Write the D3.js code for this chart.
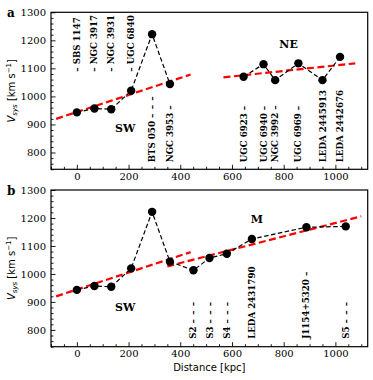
<!DOCTYPE html>
<html>
<head>
<meta charset="utf-8">
<script src="https://cdn.jsdelivr.net/npm/d3@7"></script>
<style>
  body { margin: 0; background: #fff; }
  svg { display: block; }
  .tick text { font-family: "DejaVu Serif", serif; font-size: 10px; fill: #000; }
  .tick line { stroke: #000; stroke-width: 0.9; }
</style>
</head>
<body>
<div id="chart"></div>
<script>
// galaxies south-west of the group
var swNames = ["SBS 1147", "NGC 3917", "NGC 3931", "UGC 6840", "BTS 050", "NGC 3953"];
var swDist  = [0, 68, 133, 210, 291, 360];
var swVel   = [943, 957, 954, 1020, 1222, 1044];
var swLabels = ["\u2013 SBS 1147", "\u2013 NGC 3917", "\u2013 NGC 3931", "\u2013 UGC 6840",
                "BTS 050 \u2013\u2002\u2013\u2002\u2013", "NGC 3953 \u2013"];

// north-east
var neNames = ["UGC 6923", "UGC 6940", "NGC 3992", "UGC 6969", "LEDA 2445913", "LEDA 2442676"];
var neDist  = [645, 722, 767, 857, 950, 1018];
var neVel   = [1070, 1115, 1058, 1118, 1058, 1141];
var neLabels = ["UGC 6923 \u2013", "UGC 6940 \u2013", "NGC 3992 \u2013", "UGC 6969 \u2013",
                "LEDA 2445913", "LEDA 2442676"];

// middle (panel b)
var mNames = ["S2", "S3", "S4", "LEDA 2431790", "J1154+5320", "S5"];
var mDist  = [451, 513, 580, 677, 888, 1040];
var mVel   = [1013, 1057, 1072, 1125, 1167, 1170];
var mLabels = ["S2 \u2013\u2002\u2013\u2002\u2013", "S3 \u2013\u2002\u2013\u2002\u2013",
               "S4 \u2013\u2002\u2013\u2002\u2013", "LEDA 2431790", "J1154+5320 \u2013",
               "S5 \u2013\u2002\u2013\u2002\u2013"];

// linear fits [x0, v0, x1, v1]
var swFit = [-80, 920, 440, 1078];
var neFit = [567, 1068, 1077, 1118];
var mFit  = [350, 1027, 1100, 1206];

var xDomain = [-100, 1125];
var yDomain = [740, 1300];
var xMajor = [0, 200, 400, 600, 800, 1000];
var yMajor = [800, 900, 1000, 1100, 1200, 1300];

var W = 373, H = 380;
var left = 51, right = 367.7;

var svg = d3.select("#chart").append("svg")
    .attr("width", W)
    .attr("height", H);

var x = d3.scaleLinear().domain(xDomain).range([left, right]);

function zip(d, v, n, l) {
  return d.map(function(_, i) { return {x: d[i], v: v[i], name: n[i], label: l[i]}; });
}

function panel(top, bottom, letter, showXLabel) {
  var y = d3.scaleLinear().domain(yDomain).range([bottom, top]);
  var g = svg.append("g");

  // minor ticks
  g.append("g")
      .attr("transform", "translate(0," + bottom + ")")
      .call(d3.axisBottom(x).tickValues(d3.range(-100, 1126, 50).filter(function(d) { return xMajor.indexOf(d) < 0; }))
        .tickSize(-2.5).tickFormat(""))
      .select(".domain").remove();
  g.append("g")
      .attr("transform", "translate(" + left + ",0)")
      .call(d3.axisLeft(y).tickValues(d3.range(740, 1301, 20).filter(function(d) { return yMajor.indexOf(d) < 0; }))
        .tickSize(-2.5).tickFormat(""))
      .select(".domain").remove();

  // major ticks
  g.append("g")
      .attr("transform", "translate(0," + bottom + ")")
      .call(d3.axisBottom(x).tickValues(xMajor).tickSize(-4.5).tickPadding(3.5).tickFormat(d3.format("d")))
      .select(".domain").remove();
  g.append("g")
      .attr("transform", "translate(" + left + ",0)")
      .call(d3.axisLeft(y).tickValues(yMajor).tickSize(-4.5).tickPadding(5).tickFormat(d3.format("d")))
      .select(".domain").remove();

  g.append("rect")
      .attr("x", left).attr("y", top)
      .attr("width", right - left).attr("height", bottom - top)
      .attr("fill", "none").attr("stroke", "#000").attr("stroke-width", 1.2);

  g.append("text")
      .attr("x", 7).attr("y", top + 5)
      .style("font-family", "DejaVu Serif").style("font-weight", "bold").style("font-size", "12px")
      .text(letter);

  var yl = g.append("text")
      .attr("transform", "translate(15," + ((top + bottom) / 2) + ") rotate(-90)")
      .attr("text-anchor", "middle")
      .style("font-family", "DejaVu Sans").style("font-size", "10px");
  yl.append("tspan").style("font-style", "italic").text("V");
  yl.append("tspan").style("font-style", "italic").style("font-size", "7px").attr("dy", 2).text("sys");
  yl.append("tspan").attr("dy", -2).text(" [km s");
  yl.append("tspan").style("font-size", "7px").attr("dy", -4).text("\u22121");
  yl.append("tspan").attr("dy", 4).text("]");

  if (showXLabel) {
    g.append("text")
        .attr("x", (left + right) / 2).attr("y", bottom + 24.5)
        .attr("text-anchor", "middle")
        .style("font-family", "DejaVu Sans").style("font-size", "10px")
        .text("Distance [kpc]");
  }

  g.y = y;
  return g;
}

function fit(g, f) {
  g.append("line")
      .attr("x1", x(f[0])).attr("y1", g.y(f[1]))
      .attr("x2", x(f[2])).attr("y2", g.y(f[3]))
      .attr("stroke", "#f00").attr("stroke-width", 2.2)
      .attr("stroke-dasharray", "7,3.5");
}

function series(g, pts) {
  var line = d3.line().x(function(d) { return x(d.x); }).y(function(d) { return g.y(d.v); });
  g.append("path")
      .datum(pts)
      .attr("d", line)
      .attr("fill", "none").attr("stroke", "#000").attr("stroke-width", 1.2)
      .attr("stroke-dasharray", "4.5,2.5");
  g.selectAll(null)
      .data(pts)
    .enter().append("circle")
      .attr("cx", function(d) { return x(d.x); })
      .attr("cy", function(d) { return g.y(d.v); })
      .attr("r", 4.2)
      .attr("fill", "#000");
}

function labels(g, pts, startV) {
  g.selectAll(null)
      .data(pts)
    .enter().append("text")
      .attr("transform", function(d) { return "translate(" + x(d.x) + "," + g.y(startV) + ") rotate(-90)"; })
      .attr("dy", "0.35em")
      .style("font-family", "DejaVu Serif").style("font-weight", "bold").style("font-size", "8.7px")
      .text(function(d) { return d.label; });
}

function tag(g, txt, dx, v) {
  g.append("text")
      .attr("x", x(dx)).attr("y", g.y(v))
      .attr("text-anchor", "middle").attr("dy", "0.35em")
      .style("font-family", "DejaVu Serif").style("font-weight", "bold").style("font-size", "11px")
      .text(txt);
}

var sw = zip(swDist, swVel, swNames, swLabels);
var ne = zip(neDist, neVel, neNames, neLabels);
var mid = zip(mDist, mVel, mNames, mLabels);

// panel a
var a = panel(12.3, 169.3, "a", false);
fit(a, swFit);
fit(a, neFit);
series(a, sw);
series(a, ne);
labels(a, sw.slice(0, 4), 1088);
labels(a, sw.slice(4), 765);
labels(a, ne, 765);
tag(a, "SW", 187, 885);
tag(a, "NE", 819, 1187);

// panel b
var b = panel(190, 346.7, "b", true);
fit(b, swFit);
fit(b, mFit);
series(b, sw.concat(mid));
labels(b, mid, 768);
tag(b, "SW", 187, 883);
tag(b, "M", 696, 1196);
</script>
</body>
</html>
